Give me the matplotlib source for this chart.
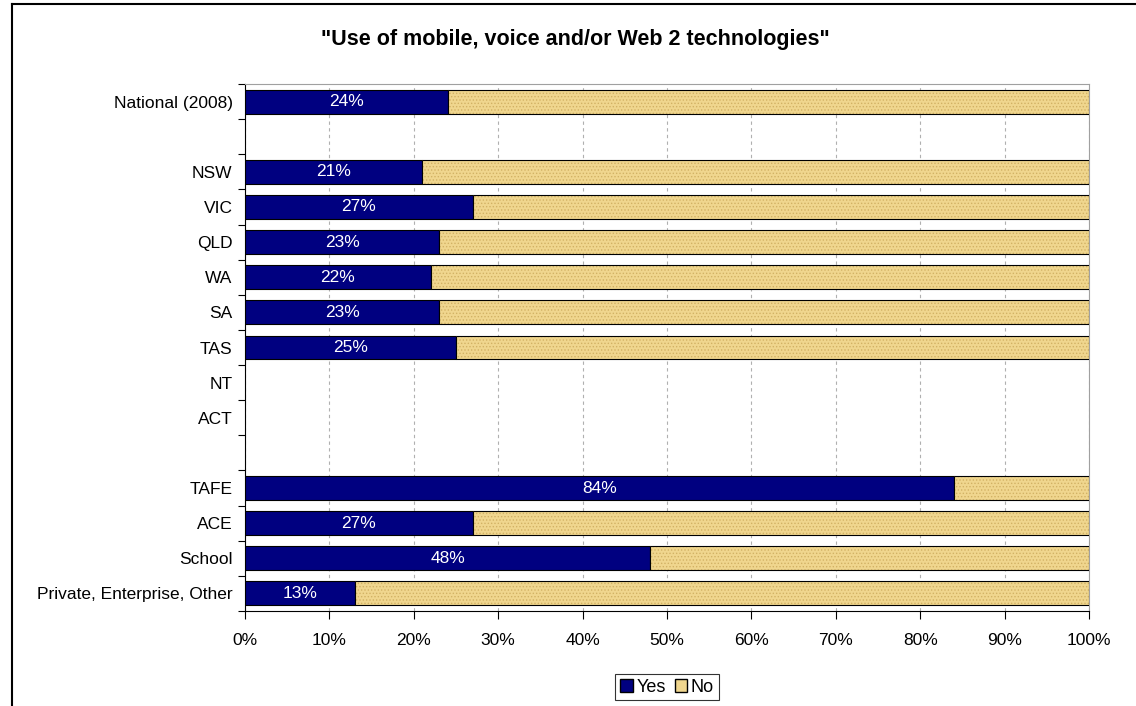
import matplotlib.pyplot as plt
from matplotlib.patches import Rectangle
from matplotlib.lines import Line2D
from matplotlib.ticker import PercentFormatter

plt.rcParams['font.family'] = ['Liberation Sans', 'DejaVu Sans']
plt.rcParams['hatch.linewidth'] = 0.6

# datos (None = fila vacía)
categories = ['National (2008)', '', 'NSW', 'VIC', 'QLD', 'WA', 'SA', 'TAS',
              'NT', 'ACT', '', 'TAFE', 'ACE', 'School', 'Private, Enterprise, Other']
yes_pct = [24, None, 21, 27, 23, 22, 23, 25, None, None, None, 84, 27, 48, 13]

YES_COLOR = '#000080'
NO_COLOR = '#F0D68E'
NO_DOTS = '#D2B164'

fig = plt.figure(figsize=(11.36, 7.06), dpi=100)
ax = fig.add_axes([245 / 1136, 1 - 611 / 706, (1089 - 245) / 1136, (611 - 84) / 706])

n = len(categories)
pos = list(range(n))
for y, v in zip(pos, yes_pct):
    if v is None:
        continue
    ax.barh(y, v, height=0.68, color=YES_COLOR, edgecolor='black', linewidth=0.8, zorder=3)
    # relleno punteado y luego el contorno negro
    ax.barh(y, 100 - v, left=v, height=0.68, color=NO_COLOR, edgecolor=NO_DOTS,
            hatch='.....', linewidth=0, zorder=3)
    ax.barh(y, 100 - v, left=v, height=0.68, fill=False, edgecolor='black',
            linewidth=0.8, zorder=3)
    ax.text(v / 2, y, f'{v}%', color='white', ha='center', va='center', fontsize=12.5, zorder=4)

ax.set_xlim(0, 100)
ax.set_ylim(n - 0.5, -0.5)
ax.set_xticks(range(0, 101, 10))
ax.xaxis.set_major_formatter(PercentFormatter(decimals=0))
ax.tick_params(axis='x', labelsize=12.5, length=6, direction='out', pad=10)

# etiquetas en el centro, marcas en los bordes
ax.set_yticks([p - 0.5 for p in pos] + [n - 0.5])
ax.set_yticklabels([])
ax.set_yticks(pos, minor=True)
ax.set_yticklabels(categories, minor=True)
ax.tick_params(axis='y', which='major', length=5)
ax.tick_params(axis='y', which='minor', length=0, labelsize=12.5, pad=9)

ax.grid(axis='x', color='#B0B0B0', linestyle=(0, (3, 3)), linewidth=0.8, zorder=0)
ax.spines['top'].set_color('#A0A0A0')
ax.spines['right'].set_color('#A0A0A0')

fig.text(575 / 1136, 1 - 40 / 706, '"Use of mobile, voice and/or Web 2 technologies"',
         ha='center', va='center', fontsize=15.5, fontweight='bold')

handles = [Rectangle((0, 0), 1, 1, facecolor=YES_COLOR, edgecolor='black'),
           Rectangle((0, 0), 1, 1, facecolor=NO_COLOR, edgecolor='black')]
leg = fig.legend(handles, ['Yes', 'No'], loc='center', bbox_to_anchor=(667 / 1136, 1 - 687 / 706),
                 ncol=2, fontsize=13, frameon=True, fancybox=False, handlelength=0.7,
                 handleheight=0.7, handletextpad=0.2, columnspacing=0.5, borderpad=0.25)
leg.get_frame().set_edgecolor('black')
leg.get_frame().set_linewidth(0.8)

# marco exterior: solo borde superior e izquierdo visibles
fig.add_artist(Line2D([12 / 1136, 1], [1 - 4 / 706, 1 - 4 / 706], color='black', linewidth=1.5))
fig.add_artist(Line2D([12 / 1136, 12 / 1136], [0, 1 - 4 / 706], color='black', linewidth=1.5))

fig.savefig('out.png', dpi=100)
